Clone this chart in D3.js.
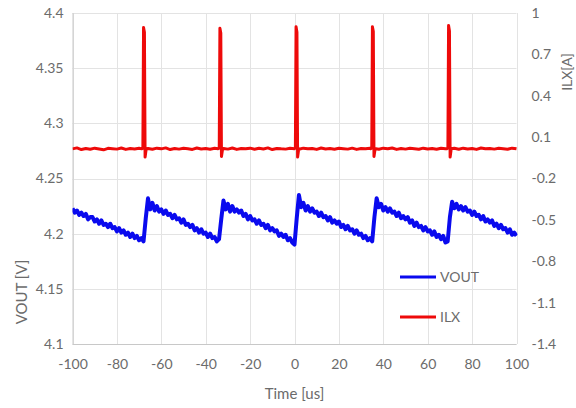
<!DOCTYPE html>
<html>
<head>
<meta charset="utf-8">
<script src="https://cdn.jsdelivr.net/npm/d3@7"></script>
<style>
  html, body { margin: 0; padding: 0; background: #ffffff; }
  svg { display: block; }
  text { font-family: Lato, "Open Sans", "Liberation Sans", sans-serif; fill: #6b6b6b; }
</style>
</head>
<body>
<svg id="chart" width="576" height="408"></svg>
<script>
// ---------------- DATA ----------------
const xTicks = [-100, -80, -60, -40, -20, 0, 20, 40, 60, 80, 100];
const leftTicks = [4.1, 4.15, 4.2, 4.25, 4.3, 4.35, 4.4];
const leftTickLabels = ["4.1", "4.15", "4.2", "4.25", "4.3", "4.35", "4.4"];
const rightTicks = [-1.4, -1.1, -0.8, -0.5, -0.2, 0.1, 0.4, 0.7, 1];
const rightTickLabels = ["-1.4", "-1.1", "-0.8", "-0.5", "-0.2", "0.1", "0.4", "0.7", "1"];

const seriesNames = ["VOUT", "ILX"];

// VOUT [V], sampled every 1 us from -100 us to 100 us
const voutTime = d3.range(-100, 101, 1);
const voutValues = [
  4.223, 4.219, 4.221, 4.217, 4.219, 4.216, 4.218, 4.213, 4.215, 4.215,
  4.211, 4.213, 4.209, 4.212, 4.208, 4.209, 4.206, 4.209, 4.205, 4.206,
  4.202, 4.205, 4.201, 4.203, 4.199, 4.201, 4.197, 4.200, 4.196, 4.198,
  4.194, 4.196, 4.193, 4.214, 4.232, 4.222, 4.228, 4.221, 4.225, 4.220,
  4.222, 4.218, 4.221, 4.217, 4.218, 4.214, 4.217, 4.213, 4.214, 4.210,
  4.213, 4.208, 4.209, 4.206, 4.208, 4.203, 4.205, 4.201, 4.204, 4.200,
  4.201, 4.197, 4.200, 4.196, 4.197, 4.193, 4.195, 4.213, 4.230, 4.222,
  4.227, 4.220, 4.225, 4.220, 4.222, 4.219, 4.221, 4.216, 4.218, 4.213,
  4.216, 4.212, 4.213, 4.209, 4.212, 4.208, 4.209, 4.205, 4.208, 4.203,
  4.205, 4.202, 4.203, 4.198, 4.200, 4.197, 4.199, 4.194, 4.196, 4.192,
  4.190, 4.214, 4.235, 4.224, 4.228, 4.221, 4.225, 4.220, 4.223, 4.219,
  4.220, 4.216, 4.219, 4.215, 4.216, 4.212, 4.215, 4.210, 4.212, 4.209,
  4.211, 4.206, 4.208, 4.204, 4.207, 4.203, 4.204, 4.200, 4.203, 4.199,
  4.200, 4.196, 4.198, 4.194, 4.196, 4.193, 4.215, 4.232, 4.224, 4.227,
  4.221, 4.224, 4.220, 4.223, 4.219, 4.220, 4.216, 4.219, 4.214, 4.216,
  4.213, 4.215, 4.210, 4.212, 4.207, 4.210, 4.206, 4.207, 4.203, 4.206,
  4.202, 4.203, 4.199, 4.202, 4.197, 4.199, 4.195, 4.198, 4.192, 4.193,
  4.215, 4.229, 4.223, 4.227, 4.222, 4.225, 4.221, 4.224, 4.220, 4.221,
  4.217, 4.220, 4.216, 4.217, 4.213, 4.216, 4.211, 4.213, 4.210, 4.212,
  4.207, 4.209, 4.205, 4.208, 4.204, 4.205, 4.201, 4.204, 4.199, 4.201,
  4.198
];

// ILX [A]
const ilxTime = [
  -100, -98, -96, -94, -92, -90, -88, -86, -84, -82, -80, -78, -76, -74, -72, -70,
  -68.8, -68.3, -68.0, -67.6, -67.3, -66.8,
  -66, -64, -62, -60, -58, -56, -54, -52, -50, -48, -46, -44, -42, -40, -38, -36,
  -34.4, -33.9, -33.6, -33.2, -32.9, -32.4,
  -32, -30, -28, -26, -24, -22, -20, -18, -16, -14, -12, -10, -8, -6, -4, -2,
  -0.1, 0.4, 0.7, 1.1, 1.4, 1.9,
  2, 4, 6, 8, 10, 12, 14, 16, 18, 20, 22, 24, 26, 28, 30, 32, 34,
  34.3, 34.8, 35.1, 35.5, 35.8, 36.3,
  36, 38, 40, 42, 44, 46, 48, 50, 52, 54, 56, 58, 60, 62, 64, 66, 68,
  68.6, 69.1, 69.4, 69.8, 70.1, 70.6,
  72, 74, 76, 78, 80, 82, 84, 86, 88, 90, 92, 94, 96, 98, 100
];
const ilxValues = [
  0.015, 0.022, 0.010, 0.018, 0.012, 0.020, 0.014, 0.008, 0.019, 0.016, 0.013, 0.021, 0.011, 0.017, 0.014, 0.019,
  0.015, 0.020, 0.895, 0.860, -0.045, 0.015,
  0.018, 0.012, 0.020, 0.015, 0.022, 0.010, 0.018, 0.013, 0.019, 0.016, 0.011, 0.021, 0.014, 0.017, 0.012, 0.019,
  0.016, 0.020, 0.890, 0.855, -0.040, 0.014,
  0.018, 0.013, 0.021, 0.011, 0.017, 0.015, 0.020, 0.012, 0.019, 0.014, 0.022, 0.010, 0.018, 0.015, 0.013, 0.019,
  0.016, 0.021, 0.900, 0.860, -0.045, 0.015,
  0.012, 0.020, 0.015, 0.018, 0.011, 0.021, 0.014, 0.017, 0.012, 0.019, 0.016, 0.013, 0.020, 0.011, 0.018, 0.015, 0.019,
  0.016, 0.020, 0.900, 0.865, -0.040, 0.014,
  0.018, 0.012, 0.020, 0.015, 0.021, 0.011, 0.018, 0.013, 0.019, 0.016, 0.012, 0.020, 0.014, 0.017, 0.012, 0.019, 0.015,
  0.016, 0.021, 0.910, 0.870, -0.045, 0.015,
  0.019, 0.012, 0.020, 0.014, 0.017, 0.011, 0.021, 0.015, 0.018, 0.013, 0.019, 0.016, 0.012, 0.020, 0.015
];

// ---------------- CHART ----------------
const svg = d3.select("#chart");
const plot = { left: 72.5, right: 516.5, top: 13, bottom: 344 };

const x = d3.scaleLinear().domain([-100, 100]).range([plot.left, plot.right]);
const yL = d3.scaleLinear().domain([4.1, 4.4]).range([plot.bottom, plot.top]);
const yR = d3.scaleLinear().domain([-1.4, 1]).range([plot.bottom, plot.top]);

const gridColor = "#e3e3e3";

// gridlines
svg.append("g").selectAll("line.h").data(leftTicks).join("line")
  .attr("x1", plot.left).attr("x2", plot.right)
  .attr("y1", d => Math.round(yL(d)) + 0.5).attr("y2", d => Math.round(yL(d)) + 0.5)
  .attr("stroke", gridColor).attr("stroke-width", 1);
svg.append("g").selectAll("line.v").data(xTicks).join("line")
  .attr("y1", plot.top).attr("y2", plot.bottom)
  .attr("x1", d => Math.round(x(d)) + 0.5).attr("x2", d => Math.round(x(d)) + 0.5)
  .attr("stroke", gridColor).attr("stroke-width", 1);

// axis lines
svg.append("line").attr("x1", plot.left).attr("x2", plot.right)
  .attr("y1", plot.bottom + 0.5).attr("y2", plot.bottom + 0.5)
  .attr("stroke", "#c8c8c8").attr("stroke-width", 1);
svg.append("line").attr("x1", plot.left + 0.5).attr("x2", plot.left + 0.5)
  .attr("y1", plot.top).attr("y2", plot.bottom)
  .attr("stroke", "#c8c8c8").attr("stroke-width", 1);

// axes (labels only)
const fmtFrom = (ticks, labels) => d => labels[ticks.indexOf(d)];

const gx = svg.append("g").attr("transform", `translate(0,${plot.bottom + 12})`)
  .call(d3.axisBottom(x).tickValues(xTicks).tickSize(0).tickFormat(d => String(d)));
const gl = svg.append("g").attr("transform", `translate(${plot.left - 9},0)`)
  .call(d3.axisLeft(yL).tickValues(leftTicks).tickSize(0).tickFormat(fmtFrom(leftTicks, leftTickLabels)));
const gr = svg.append("g").attr("transform", `translate(${plot.right + 15},0)`)
  .call(d3.axisRight(yR).tickValues(rightTicks).tickSize(0).tickFormat(fmtFrom(rightTicks, rightTickLabels)));
[gx, gl, gr].forEach(g => {
  g.select(".domain").remove();
  g.selectAll("text").attr("font-size", 14).attr("fill", "#6b6b6b")
    .attr("font-family", "Lato, 'Open Sans', sans-serif");
});
gl.selectAll("text").attr("x", 0);
gr.selectAll("text").attr("x", 0);

// clip
svg.append("clipPath").attr("id", "clip").append("rect")
  .attr("x", plot.left).attr("y", plot.top - 2)
  .attr("width", plot.right - plot.left + 1).attr("height", plot.bottom - plot.top + 2);

const voutData = voutTime.map((t, i) => [t, voutValues[i]]);
const ilxData = ilxTime.map((t, i) => [t, ilxValues[i]]);

const lineL = d3.line().x(d => x(d[0])).y(d => yL(d[1]));
const lineR = d3.line().x(d => x(d[0])).y(d => yR(d[1]));

const g = svg.append("g").attr("clip-path", "url(#clip)");
g.append("path").datum(voutData).attr("d", lineL)
  .attr("fill", "none").attr("stroke", "#0a0aee").attr("stroke-width", 4)
  .attr("stroke-linejoin", "round");
g.append("path").datum(ilxData).attr("d", lineR)
  .attr("fill", "none").attr("stroke", "#ee0a0a").attr("stroke-width", 3)
  .attr("stroke-linejoin", "round");

// axis titles
svg.append("text").attr("x", (plot.left + plot.right) / 2).attr("y", 399)
  .attr("text-anchor", "middle").attr("font-size", 15).text("Time [us]");
svg.append("text").attr("transform", "translate(27,292) rotate(-90)")
  .attr("text-anchor", "middle").attr("font-size", 15).text("VOUT [V]");
svg.append("text").attr("transform", "translate(572,72) rotate(-90)")
  .attr("text-anchor", "middle").attr("font-size", 14).text("ILX[A]");

// legend
const legendColors = ["#0a0aee", "#ee0a0a"];
const legendY = [277, 317];
const lg = svg.append("g");
seriesNames.forEach((name, i) => {
  lg.append("line").attr("x1", 400).attr("x2", 436)
    .attr("y1", legendY[i]).attr("y2", legendY[i])
    .attr("stroke", legendColors[i]).attr("stroke-width", 3);
  lg.append("text").attr("x", 440).attr("y", legendY[i]).attr("dy", "0.36em")
    .attr("font-size", 14).text(name);
});
</script>
</body>
</html>
